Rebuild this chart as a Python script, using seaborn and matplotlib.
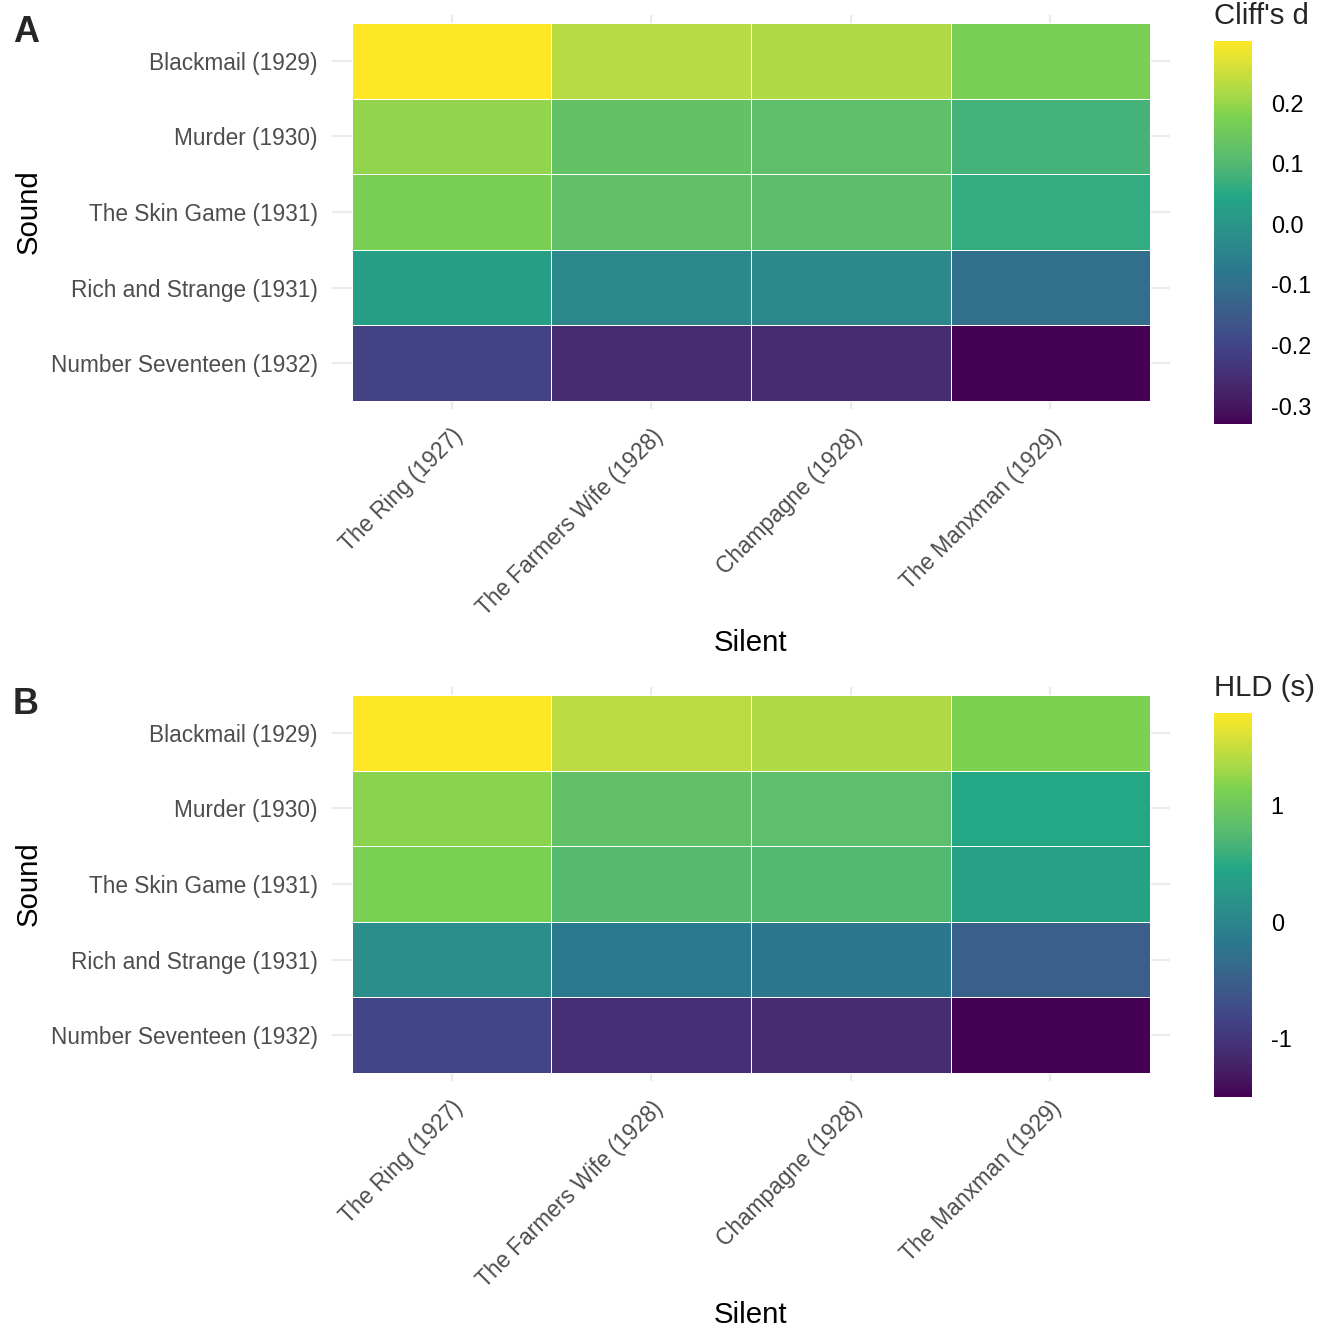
import matplotlib
matplotlib.use('Agg')
import matplotlib.pyplot as plt
import numpy as np
import pandas as pd
import seaborn as sns
from matplotlib.colors import ListedColormap

sns.set_style('white')
plt.rcParams['font.family'] = ['Liberation Sans', 'DejaVu Sans']
plt.rcParams['axes.unicode_minus'] = False

# ===============================================================================

sound_films = ['Blackmail (1929)', 'Murder (1930)', 'The Skin Game (1931)',
               'Rich and Strange (1931)', 'Number Seventeen (1932)']
silent_films = ['The Ring (1927)', 'The Farmers Wife (1928)',
                'Champagne (1928)', 'The Manxman (1929)']

# rows = sound films, columns = silent films
cliffs_d = [
    [0.302, 0.23, 0.22, 0.17],
    [0.195, 0.13, 0.12, 0.08],
    [0.17, 0.125, 0.115, 0.06],
    [0.025, -0.035, -0.035, -0.10],
    [-0.21, -0.26, -0.26, -0.331],
]
hld_seconds = [
    [1.795, 1.43, 1.38, 1.14],
    [1.20, 0.87, 0.84, 0.46],
    [1.12, 0.77, 0.76, 0.39],
    [0.13, -0.17, -0.20, -0.50],
    [-0.82, -1.10, -1.12, -1.50],
]

cliffs_ticks = [-0.3, -0.2, -0.1, 0.0, 0.1, 0.2]
hld_ticks = [-1, 0, 1]

# ===============================================================================
# viridis as ggplot builds it: 6 colours, interpolated in Lab space

WHITE = np.array([0.95047, 1.0, 1.08883])
M = np.array([[0.4124564, 0.3575761, 0.1804375],
              [0.2126729, 0.7151522, 0.0721750],
              [0.0193339, 0.1191920, 0.9503041]])


def to_lab(rgb):
    c = np.where(rgb <= 0.04045, rgb / 12.92, ((rgb + 0.055) / 1.055) ** 2.4)
    t = (c @ M.T) / WHITE
    f = np.where(t > 0.008856, np.cbrt(t), 7.787 * t + 16 / 116)
    return np.stack([116 * f[:, 1] - 16, 500 * (f[:, 0] - f[:, 1]),
                     200 * (f[:, 1] - f[:, 2])], axis=1)


def from_lab(lab):
    fy = (lab[:, 0] + 16) / 116
    fx = fy + lab[:, 1] / 500
    fz = fy - lab[:, 2] / 200
    f = np.stack([fx, fy, fz], axis=1)
    t = np.where(f ** 3 > 0.008856, f ** 3, (f - 16 / 116) / 7.787) * WHITE
    c = t @ np.linalg.inv(M).T
    c = np.clip(c, 0, 1)
    rgb = np.where(c <= 0.0031308, 12.92 * c, 1.055 * c ** (1 / 2.4) - 0.055)
    return np.clip(rgb, 0, 1)


anchors = ['#440154', '#414487', '#2A788E', '#22A884', '#7AD151', '#FDE725']
anchor_rgb = np.array([matplotlib.colors.to_rgb(c) for c in anchors])
anchor_lab = to_lab(anchor_rgb)
pos = np.linspace(0, 1, len(anchors))
grid = np.linspace(0, 1, 256)
lab = np.stack([np.interp(grid, pos, anchor_lab[:, i]) for i in range(3)], axis=1)
gg_viridis = ListedColormap(from_lab(lab))

# ===============================================================================

fig = plt.figure(figsize=(7, 7), dpi=192)
W = 1344.0

panels = [
    ('A', cliffs_d, "Cliff's d", cliffs_ticks, '{:.1f}', 15.4, 41.0, 424.3),
    ('B', hld_seconds, 'HLD (s)', hld_ticks, '{:.0f}', 687.4, 712.7, 1096.7),
]

for tag, values, title, ticks, fmt, ax_top, cb_top, cb_bot in panels:
    df = pd.DataFrame(values, index=sound_films, columns=silent_films)

    ax = fig.add_axes([332 / W, 1 - (ax_top + 393.2) / W, 838 / W, 393.2 / W])
    cax = fig.add_axes([1214 / W, 1 - cb_bot / W, 38 / W, (cb_bot - cb_top) / W])

    sns.heatmap(df, ax=ax, cmap=gg_viridis, linewidths=0.3, linecolor='white',
                cbar_ax=cax, cbar_kws={'ticks': ticks})

    ax.set_xlim(-0.1, 4.1)
    ax.set_ylim(5.1, -0.1)
    ax.set_axisbelow(True)
    ax.grid(True, color='#EBEBEB', linewidth=0.8)
    for s in ax.spines.values():
        s.set_visible(False)
    ax.tick_params(length=0, labelsize=8.5, labelcolor='#4D4D4D')
    ax.tick_params(axis='y', pad=5.3)
    ax.tick_params(axis='x', pad=6)
    plt.setp(ax.get_yticklabels(), rotation=0, ha='right', va='center_baseline')
    plt.setp(ax.get_xticklabels(), rotation=45, ha='right', va='top',
             rotation_mode='anchor')

    ax.set_xlabel('Silent', fontsize=11, color='black')
    ax.set_ylabel('Sound', fontsize=11, color='black')
    ax.xaxis.set_label_coords(0.5, -0.56)
    ax.yaxis.set_label_coords(-0.345, 0.5)

    # colourbar styled like a ggplot guide
    cbar = ax.collections[0].colorbar
    cbar.outline.set_visible(False)
    cax.yaxis.set_ticks_position('both')
    cax.tick_params(axis='y', direction='in', length=3, width=0.8,
                    color='white', labelsize=8.8, labelcolor='black', pad=7,
                    left=True, right=True, labelleft=False, labelright=True)
    cax.set_yticklabels([fmt.format(t) for t in ticks])

    fig.text(1214 / W, 1 - (cb_top - 17) / W, title, fontsize=11,
             ha='left', va='baseline')
    fig.text(13 / W, 1 - (ax_top + 27) / W, tag, fontsize=13.5,
             fontweight='bold', ha='left', va='baseline')

fig.savefig('out.png', dpi=192)
